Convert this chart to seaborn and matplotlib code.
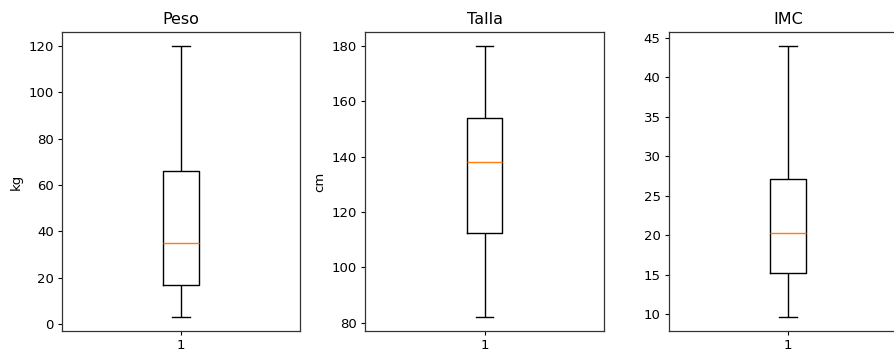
import matplotlib
matplotlib.use("Agg")
import pandas as pd
import matplotlib.pyplot as plt
import seaborn as sns

# values: min, q1, median, q3, max
peso = [3, 17, 35, 66, 120]
talla = [82, 112.5, 138, 154, 180]
imc = [9.6, 15.24, 20.26, 27.06, 44]

titles = ["Peso", "Talla", "IMC"]
ylabels = ["kg", "cm", ""]
series = [peso, talla, imc]

plt.rcParams["xtick.major.size"] = 2.6
plt.rcParams["ytick.major.size"] = 2.6
plt.rcParams["xtick.major.pad"] = 3.2
plt.rcParams["ytick.major.pad"] = 3.2

fig = plt.figure(figsize=(8.95, 3.51), dpi=100)
lefts = [62 / 895, 365.3 / 895, 668.6 / 895]
axes = [fig.add_axes([l, 20 / 351, 238.5 / 895, 299 / 351]) for l in lefts]

for ax, vals, t, yl in zip(axes, series, titles, ylabels):
    df = pd.DataFrame({"grupo": ["1"] * len(vals), "valor": vals})
    sns.boxplot(data=df, x="grupo", y="valor", ax=ax, width=0.15,
                fill=False, color="black", linewidth=1, whis=1.5,
                medianprops={"color": "#ff7f0e", "linewidth": 1})
    ax.set_title(t, fontsize=11.5)
    ax.set_xlabel("")
    ax.set_ylabel(yl, fontsize=9.5)
    ax.tick_params(labelsize=9.5)
    for s in ax.spines.values():
        s.set_linewidth(0.9)
        s.set_color("#333333")

fig.savefig("out.png", dpi=100)
